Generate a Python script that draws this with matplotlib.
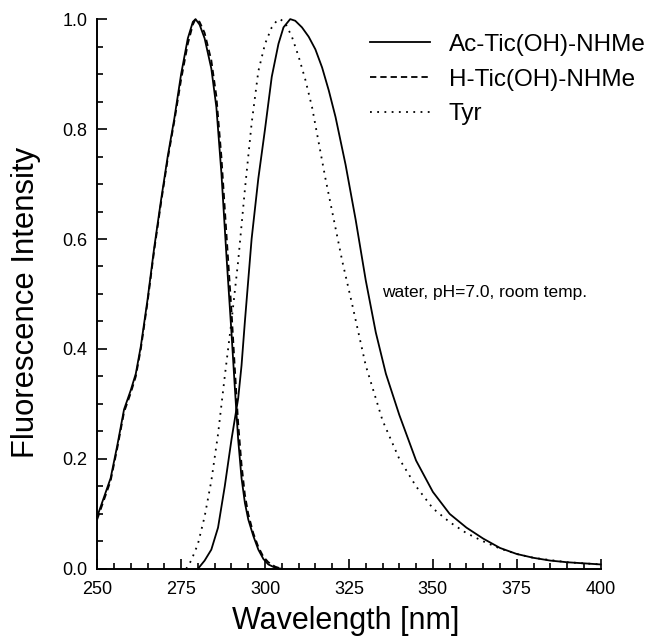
import numpy as np
import matplotlib.pyplot as plt
from matplotlib.ticker import MultipleLocator

plt.rcParams['font.family'] = ['Liberation Sans', 'DejaVu Sans']

# excitation spectra
exc_wl = [250, 252, 254, 256, 258, 260, 261.5, 263, 265, 267, 269, 271, 273, 275, 277, 278.5, 279.3,
          280.5, 282, 284, 285.5, 287, 288.5, 290, 291, 292, 293, 294, 295, 296.5, 298, 299.5, 301, 303, 305]
exc_ac = [0.095, 0.13, 0.165, 0.225, 0.29, 0.325, 0.355, 0.405, 0.49, 0.585, 0.67, 0.75, 0.82, 0.90, 0.965,
          0.995, 1.0, 0.99, 0.965, 0.91, 0.84, 0.72, 0.57, 0.43, 0.33, 0.235, 0.165, 0.12, 0.09, 0.06,
          0.035, 0.018, 0.008, 0.002, 0.0]
exc_h = [0.09, 0.125, 0.16, 0.22, 0.285, 0.32, 0.35, 0.40, 0.485, 0.58, 0.665, 0.745, 0.815, 0.89, 0.955,
         0.99, 1.0, 0.995, 0.975, 0.925, 0.86, 0.75, 0.61, 0.47, 0.365, 0.265, 0.19, 0.135, 0.1, 0.065,
         0.04, 0.022, 0.012, 0.004, 0.0]

# emission spectra
em_ac_wl = [280, 282, 284, 286, 288, 290, 292, 293, 294, 296, 298, 300, 302, 304, 305.5, 307.5, 309, 311,
            313, 315, 317, 319, 321, 324, 327, 330, 333, 336, 340, 345, 350, 355, 360, 365, 370, 375, 380,
            385, 390, 395, 400]
em_ac = [0.0, 0.015, 0.035, 0.075, 0.15, 0.235, 0.31, 0.37, 0.45, 0.60, 0.71, 0.80, 0.895, 0.955, 0.985,
         1.0, 0.997, 0.985, 0.968, 0.945, 0.912, 0.87, 0.822, 0.735, 0.635, 0.525, 0.43, 0.355, 0.28, 0.197,
         0.14, 0.10, 0.075, 0.055, 0.038, 0.027, 0.02, 0.015, 0.012, 0.01, 0.008]
em_tyr_wl = [276.5, 278, 280, 282, 284, 286, 288, 290, 292, 294, 296, 298, 300, 302, 303.5, 304.5, 306, 308,
             310, 312, 314, 316, 318, 320, 323, 326, 330, 335, 340, 345, 350, 355, 360, 365, 370, 375, 380,
             390, 400]
em_tyr = [0.0, 0.015, 0.045, 0.095, 0.16, 0.245, 0.35, 0.45, 0.56, 0.69, 0.81, 0.905, 0.955, 0.985, 0.997,
          1.0, 0.993, 0.968, 0.932, 0.89, 0.84, 0.775, 0.71, 0.65, 0.56, 0.48, 0.37, 0.27, 0.20, 0.15, 0.11,
          0.085, 0.065, 0.05, 0.037, 0.027, 0.02, 0.012, 0.008]

fig = plt.figure(figsize=(6.48, 6.37), dpi=100)
ax = fig.add_axes([0.150, 0.107, 0.777, 0.863])

lw = 1.3
ax.plot(exc_wl, exc_ac, color='black', lw=lw, label='Ac-Tic(OH)-NHMe', clip_on=False)
ax.plot(exc_wl, exc_h, color='black', lw=lw, dashes=(3.5, 2.2), label='H-Tic(OH)-NHMe', clip_on=False)
ax.plot(em_ac_wl, em_ac, color='black', lw=lw, clip_on=False)
ax.plot(em_tyr_wl, em_tyr, color='black', lw=lw, dashes=(1, 3), label='Tyr', clip_on=False)

ax.set_xlim(250, 400)
ax.set_ylim(0, 1.0)
ax.xaxis.set_major_locator(MultipleLocator(25))
ax.xaxis.set_minor_locator(MultipleLocator(5))
ax.yaxis.set_major_locator(MultipleLocator(0.2))
ax.yaxis.set_minor_locator(MultipleLocator(0.05))
ax.yaxis.set_major_formatter(plt.FormatStrFormatter('%.1f'))
ax.tick_params(which='both', direction='in', width=1.2, labelsize=13)
ax.tick_params(which='major', length=7)
ax.tick_params(axis='y', which='major', pad=7)
ax.tick_params(axis='x', which='major', pad=9)
ax.tick_params(which='minor', length=4)

ax.spines['top'].set_visible(False)
ax.spines['right'].set_visible(False)
ax.spines['left'].set_linewidth(1.4)
ax.spines['bottom'].set_linewidth(1.4)

ax.set_xlabel('Wavelength [nm]', fontsize=22)
ax.set_ylabel('Fluorescence Intensity', fontsize=22.3)
ax.xaxis.set_label_coords(0.493, -0.068)
ax.yaxis.set_label_coords(-0.111, 0.485)

ax.legend(loc='upper left', bbox_to_anchor=(0.5366, 0.981), bbox_transform=fig.transFigure,
          frameon=False, fontsize=17.5, handlelength=2.47, handletextpad=0.78, labelspacing=0.52)

ax.text(382 / 648, 1 - 293 / 637, 'water, pH=7.0, room temp.', transform=fig.transFigure,
        fontsize=12.5, va='center', ha='left')

fig.savefig('out.png', dpi=100)
